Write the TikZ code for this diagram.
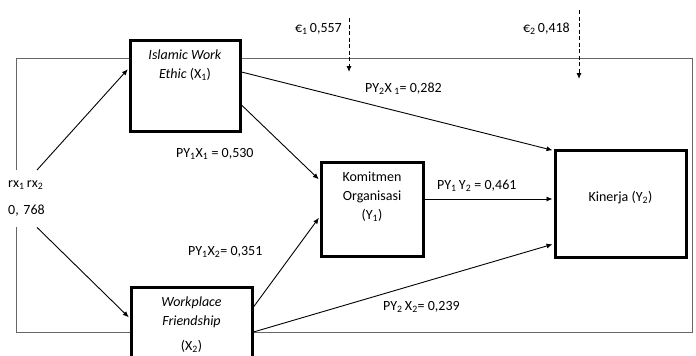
\documentclass[tikz,border=0pt]{standalone}
\usepackage{fontspec}
\setmainfont{Carlito}
\usetikzlibrary{arrows.meta}

\begin{document}
\begin{tikzpicture}[x=1pt,y=-1pt,font=\fontsize{14}{19}\selectfont,
    var/.style={draw,line width=3pt,fill=white,inner sep=0pt},
    vartext/.style={anchor=north,align=center,inner sep=0pt},
    coef/.style={anchor=base west,inner sep=0pt},
    arr/.style={-{Latex[length=6pt,width=5pt]},line width=0.9pt,shorten >=1pt},
    errarr/.style={arr,dash pattern=on 4pt off 2.5pt}]
    \useasboundingbox (0,0) rectangle (696,356);
    \clip (0,0) rectangle (696,356);

    \draw[black!60,line width=1pt] (16,58) rectangle (692,332);

    \node[var,minimum width=110pt,minimum height=91pt] (X1) at (185,85.5) {};
    \node[var,minimum width=121pt,minimum height=90pt] (X2) at (191.5,332) {};
    \node[var,minimum width=102pt,minimum height=94pt] (Y1) at (372,209) {};
    \node[var,minimum width=131pt,minimum height=107pt] (Y2) at (620.5,203.5) {};

    \node[vartext] (X1t) at ([yshift=-11pt]X1.north) {\textit{Islamic Work}\\\textit{Ethic} (X\textsubscript{1})};
    \node[vartext] (X2t) at ([yshift=-11pt]X2.north) {\textit{Workplace}\\\textit{Friendship}\\[6pt](X\textsubscript{2})};
    \node[vartext] (Y1t) at ([yshift=-11pt]Y1.north) {Komitmen\\Organisasi\\(Y\textsubscript{1})};
    \node[anchor=base,inner sep=0pt] (Y2t) at ([yshift=2.5pt]Y2.center) {Kinerja (Y\textsubscript{2})};

    \node[fill=white,align=left,anchor=north west,inner sep=0pt,minimum height=57pt,text width=40pt] (rx) at (8,170)
        {rx\textsubscript{1}\,rx\textsubscript{2}\\[8pt]0, 768};

    \draw[arr] ([xshift=29pt]rx.north west) -- ([yshift=17pt]X1.west);
    \draw[arr] ([xshift=29pt]rx.south west) -- ([yshift=14pt]X2.west);
    \draw[arr] ([yshift=-19.5pt]X1.east) -- ([yshift=29pt]Y1.west);
    \draw[arr] ([yshift=13.5pt]X1.east) -- ([yshift=-2pt]Y2.north west);
    \draw[arr] ([yshift=25pt]X2.east) -- ([yshift=-8pt]Y1.west);
    \draw[arr] (X2.east) -- ([yshift=-40.5pt]Y2.west);
    \draw[arr] ([yshift=10pt]Y1.east) -- ([yshift=10pt]Y1.east -| Y2.west);

    \coordinate (e1a) at (349,18);
    \coordinate (e1b) at (349,73);
    \coordinate (e2a) at (579,10);
    \coordinate (e2b) at (579,80);
    \draw[errarr] (e1a) -- (e1b);
    \draw[errarr] (e2a) -- (e2b);
    \node[coef,anchor=base east] (e1) at (342,32) {€\textsubscript{1}\,0,557};
    \node[coef,anchor=base east] (e2) at (570,32) {€\textsubscript{2}\,0,418};

    \node[coef] (p21) at (365,92) {PY\textsubscript{2}X\,\textsubscript{1}= 0,282};
    \node[coef] (p11) at (176,157) {PY\textsubscript{1}X\textsubscript{1} = 0,530};
    \node[coef] (p12) at (188,255) {PY\textsubscript{1}X\textsubscript{2}= 0,351};
    \node[coef] (p1y) at (437,189) {PY\textsubscript{1}\,Y\textsubscript{2} = 0,461};
    \node[coef] (p22) at (383,310) {PY\textsubscript{2}\,X\textsubscript{2}= 0,239};
\end{tikzpicture}
\end{document}
